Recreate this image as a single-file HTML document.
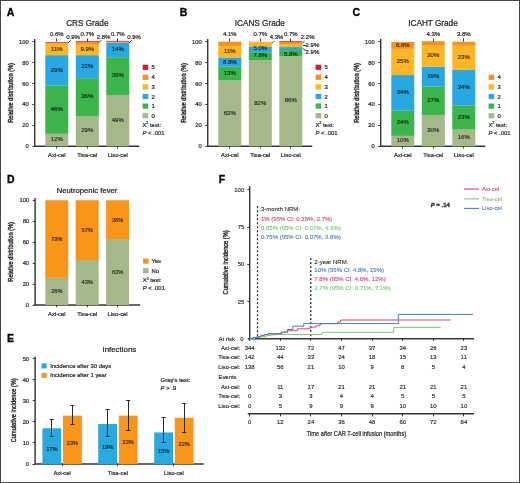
<!DOCTYPE html><html><head><meta charset="utf-8"><style>html,body{margin:0;padding:0;background:#fff;}svg{display:block;will-change:transform;filter:blur(0.25px);}</style></head><body>
<svg width="520" height="483" viewBox="0 0 520 483" font-family='"Liberation Sans", sans-serif'>
<rect x="0" y="0" width="520" height="483" fill="#fff"/>
<text x="6.80" y="15.60" font-size="10.5" text-anchor="start" fill="#000" stroke="#000" stroke-width="0.3" font-weight="bold">A</text>
<text x="179.80" y="15.80" font-size="10.5" text-anchor="start" fill="#000" stroke="#000" stroke-width="0.3" font-weight="bold">B</text>
<text x="352.50" y="15.80" font-size="10.5" text-anchor="start" fill="#000" stroke="#000" stroke-width="0.3" font-weight="bold">C</text>
<text x="6.90" y="182.70" font-size="10.5" text-anchor="start" fill="#000" stroke="#000" stroke-width="0.3" font-weight="bold">D</text>
<text x="6.90" y="341.90" font-size="10.5" text-anchor="start" fill="#000" stroke="#000" stroke-width="0.3" font-weight="bold">E</text>
<text x="218.70" y="183.20" font-size="10.5" text-anchor="start" fill="#000" stroke="#000" stroke-width="0.3" font-weight="bold">F</text>
<line x1="34.70" y1="39.00" x2="34.70" y2="146.80" stroke="#363636" stroke-width="1.45"/>
<line x1="34.20" y1="146.30" x2="139.30" y2="146.30" stroke="#363636" stroke-width="1.45"/>
<line x1="32.30" y1="146.50" x2="34.70" y2="146.50" stroke="#363636" stroke-width="1.0"/>
<text x="28.70" y="148.38" font-size="5.8" text-anchor="end" fill="#2b2b2b" stroke="#2b2b2b" stroke-width="0.22">0</text>
<line x1="32.30" y1="125.50" x2="34.70" y2="125.50" stroke="#363636" stroke-width="1.0"/>
<text x="28.70" y="127.42" font-size="5.8" text-anchor="end" fill="#2b2b2b" stroke="#2b2b2b" stroke-width="0.22">20</text>
<line x1="32.30" y1="104.50" x2="34.70" y2="104.50" stroke="#363636" stroke-width="1.0"/>
<text x="28.70" y="106.46" font-size="5.8" text-anchor="end" fill="#2b2b2b" stroke="#2b2b2b" stroke-width="0.22">40</text>
<line x1="32.30" y1="83.50" x2="34.70" y2="83.50" stroke="#363636" stroke-width="1.0"/>
<text x="28.70" y="85.50" font-size="5.8" text-anchor="end" fill="#2b2b2b" stroke="#2b2b2b" stroke-width="0.22">60</text>
<line x1="32.30" y1="62.50" x2="34.70" y2="62.50" stroke="#363636" stroke-width="1.0"/>
<text x="28.70" y="64.54" font-size="5.8" text-anchor="end" fill="#2b2b2b" stroke="#2b2b2b" stroke-width="0.22">80</text>
<line x1="32.30" y1="41.50" x2="34.70" y2="41.50" stroke="#363636" stroke-width="1.0"/>
<text x="28.70" y="43.58" font-size="5.8" text-anchor="end" fill="#2b2b2b" stroke="#2b2b2b" stroke-width="0.22">100</text>
<text x="87.30" y="25.90" font-size="8.2" text-anchor="middle" fill="#222" stroke="#222" stroke-width="0.22">CRS Grade</text>
<text x="0" y="0" font-size="7.0" text-anchor="middle" fill="#2b2b2b" stroke="#2b2b2b" stroke-width="0.4" textLength="59.8" lengthAdjust="spacingAndGlyphs" transform="translate(12.70,92.90) rotate(-90)">Relative distribution (%)</text>
<rect x="45.30" y="133.72" width="23.00" height="12.63" fill="#a5b88a"/>
<rect x="45.30" y="85.52" width="23.00" height="48.26" fill="#3bb44b"/>
<rect x="45.30" y="55.12" width="23.00" height="30.44" fill="#28a8e0"/>
<rect x="45.30" y="43.60" width="23.00" height="11.58" fill="#fcb626"/>
<rect x="45.30" y="42.65" width="23.00" height="0.99" fill="#f6921e"/>
<rect x="45.30" y="42.02" width="23.00" height="0.68" fill="#d4202a"/>
<line x1="56.50" y1="146.30" x2="56.50" y2="148.50" stroke="#363636" stroke-width="1.0"/>
<text x="56.80" y="157.38" font-size="5.8" text-anchor="middle" fill="#2b2b2b" stroke="#2b2b2b" stroke-width="0.22">Axi-cel</text>
<text x="56.80" y="141.26" font-size="6.0" text-anchor="middle" fill="rgba(0,0,0,0.66)" stroke="rgba(0,0,0,0.66)" stroke-width="0.22">12%</text>
<text x="56.80" y="110.87" font-size="6.0" text-anchor="middle" fill="rgba(0,0,0,0.66)" stroke="rgba(0,0,0,0.66)" stroke-width="0.22">46%</text>
<text x="56.80" y="71.57" font-size="6.0" text-anchor="middle" fill="rgba(0,0,0,0.66)" stroke="rgba(0,0,0,0.66)" stroke-width="0.22">29%</text>
<text x="56.80" y="50.61" font-size="6.0" text-anchor="middle" fill="rgba(0,0,0,0.66)" stroke="rgba(0,0,0,0.66)" stroke-width="0.22">11%</text>
<rect x="75.80" y="115.91" width="23.00" height="30.44" fill="#a5b88a"/>
<rect x="75.80" y="78.18" width="23.00" height="37.78" fill="#3bb44b"/>
<rect x="75.80" y="55.12" width="23.00" height="23.11" fill="#28a8e0"/>
<rect x="75.80" y="44.75" width="23.00" height="10.43" fill="#fcb626"/>
<rect x="75.80" y="41.81" width="23.00" height="2.98" fill="#f6921e"/>
<rect x="75.80" y="41.08" width="23.00" height="0.78" fill="#d4202a"/>
<line x1="87.50" y1="146.30" x2="87.50" y2="148.50" stroke="#363636" stroke-width="1.0"/>
<text x="87.30" y="157.38" font-size="5.8" text-anchor="middle" fill="#2b2b2b" stroke="#2b2b2b" stroke-width="0.22">Tisa-cel</text>
<text x="87.30" y="132.35" font-size="6.0" text-anchor="middle" fill="rgba(0,0,0,0.66)" stroke="rgba(0,0,0,0.66)" stroke-width="0.22">29%</text>
<text x="87.30" y="98.29" font-size="6.0" text-anchor="middle" fill="rgba(0,0,0,0.66)" stroke="rgba(0,0,0,0.66)" stroke-width="0.22">36%</text>
<text x="87.30" y="67.90" font-size="6.0" text-anchor="middle" fill="rgba(0,0,0,0.66)" stroke="rgba(0,0,0,0.66)" stroke-width="0.22">22%</text>
<text x="87.30" y="51.18" font-size="6.0" text-anchor="middle" fill="rgba(0,0,0,0.66)" stroke="rgba(0,0,0,0.66)" stroke-width="0.22">9.9%</text>
<rect x="106.30" y="94.95" width="23.00" height="51.40" fill="#a5b88a"/>
<rect x="106.30" y="57.22" width="23.00" height="37.78" fill="#3bb44b"/>
<rect x="106.30" y="42.55" width="23.00" height="14.72" fill="#28a8e0"/>
<rect x="106.30" y="41.60" width="23.00" height="0.99" fill="#f6921e"/>
<rect x="106.30" y="40.87" width="23.00" height="0.78" fill="#d4202a"/>
<line x1="117.50" y1="146.30" x2="117.50" y2="148.50" stroke="#363636" stroke-width="1.0"/>
<text x="117.80" y="157.38" font-size="5.8" text-anchor="middle" fill="#2b2b2b" stroke="#2b2b2b" stroke-width="0.22">Liso-cel</text>
<text x="117.80" y="121.87" font-size="6.0" text-anchor="middle" fill="rgba(0,0,0,0.66)" stroke="rgba(0,0,0,0.66)" stroke-width="0.22">49%</text>
<text x="117.80" y="77.33" font-size="6.0" text-anchor="middle" fill="rgba(0,0,0,0.66)" stroke="rgba(0,0,0,0.66)" stroke-width="0.22">36%</text>
<text x="117.80" y="51.13" font-size="6.0" text-anchor="middle" fill="rgba(0,0,0,0.66)" stroke="rgba(0,0,0,0.66)" stroke-width="0.22">14%</text>
<rect x="142.60" y="64.70" width="5.60" height="5.20" fill="#d4202a"/>
<text x="151.60" y="69.41" font-size="5.9" text-anchor="start" fill="#2b2b2b" stroke="#2b2b2b" stroke-width="0.22">5</text>
<rect x="142.60" y="74.70" width="5.60" height="5.20" fill="#f6921e"/>
<text x="151.60" y="79.41" font-size="5.9" text-anchor="start" fill="#2b2b2b" stroke="#2b2b2b" stroke-width="0.22">4</text>
<rect x="142.60" y="84.30" width="5.60" height="5.20" fill="#fcb626"/>
<text x="151.60" y="89.01" font-size="5.9" text-anchor="start" fill="#2b2b2b" stroke="#2b2b2b" stroke-width="0.22">3</text>
<rect x="142.60" y="93.90" width="5.60" height="5.20" fill="#28a8e0"/>
<text x="151.60" y="98.61" font-size="5.9" text-anchor="start" fill="#2b2b2b" stroke="#2b2b2b" stroke-width="0.22">2</text>
<rect x="142.60" y="103.50" width="5.60" height="5.20" fill="#3bb44b"/>
<text x="151.60" y="108.21" font-size="5.9" text-anchor="start" fill="#2b2b2b" stroke="#2b2b2b" stroke-width="0.22">1</text>
<rect x="142.60" y="113.10" width="5.60" height="5.20" fill="#a5b88a"/>
<text x="151.60" y="117.81" font-size="5.9" text-anchor="start" fill="#2b2b2b" stroke="#2b2b2b" stroke-width="0.22">0</text>
<text x="142.40" y="126.71" font-size="5.9" text-anchor="start" fill="#2b2b2b" stroke="#2b2b2b" stroke-width="0.22">X<tspan font-size="3.6" dy="-2.6">2</tspan><tspan dy="2.6"> test:</tspan></text>
<text x="142.40" y="134.51" font-size="5.9" text-anchor="start" fill="#2b2b2b" stroke="#2b2b2b" stroke-width="0.22"><tspan font-style="italic">P</tspan> &lt; .001</text>
<text x="56.80" y="36.35" font-size="6.0" text-anchor="middle" fill="#2b2b2b" stroke="#2b2b2b" stroke-width="0.22">0.6%</text>
<line x1="56.50" y1="38.50" x2="56.50" y2="41.50" stroke="#363636" stroke-width="1.0"/>
<text x="73.00" y="39.15" font-size="6.0" text-anchor="middle" fill="#2b2b2b" stroke="#2b2b2b" stroke-width="0.22">0.9%</text>
<line x1="68.00" y1="43.00" x2="70.80" y2="40.20" stroke="#363636" stroke-width="1.0"/>
<text x="87.30" y="36.35" font-size="6.0" text-anchor="middle" fill="#2b2b2b" stroke="#2b2b2b" stroke-width="0.22">0.7%</text>
<line x1="87.50" y1="38.50" x2="87.50" y2="41.50" stroke="#363636" stroke-width="1.0"/>
<text x="103.50" y="39.15" font-size="6.0" text-anchor="middle" fill="#2b2b2b" stroke="#2b2b2b" stroke-width="0.22">2.8%</text>
<line x1="98.50" y1="43.00" x2="101.30" y2="40.20" stroke="#363636" stroke-width="1.0"/>
<text x="117.80" y="36.35" font-size="6.0" text-anchor="middle" fill="#2b2b2b" stroke="#2b2b2b" stroke-width="0.22">0.7%</text>
<line x1="117.50" y1="38.50" x2="117.50" y2="41.50" stroke="#363636" stroke-width="1.0"/>
<text x="134.00" y="39.15" font-size="6.0" text-anchor="middle" fill="#2b2b2b" stroke="#2b2b2b" stroke-width="0.22">0.9%</text>
<line x1="129.00" y1="43.00" x2="131.80" y2="40.20" stroke="#363636" stroke-width="1.0"/>
<line x1="207.70" y1="39.00" x2="207.70" y2="146.80" stroke="#363636" stroke-width="1.45"/>
<line x1="207.20" y1="146.30" x2="312.30" y2="146.30" stroke="#363636" stroke-width="1.45"/>
<line x1="205.30" y1="146.50" x2="207.70" y2="146.50" stroke="#363636" stroke-width="1.0"/>
<text x="201.70" y="148.38" font-size="5.8" text-anchor="end" fill="#2b2b2b" stroke="#2b2b2b" stroke-width="0.22">0</text>
<line x1="205.30" y1="125.50" x2="207.70" y2="125.50" stroke="#363636" stroke-width="1.0"/>
<text x="201.70" y="127.42" font-size="5.8" text-anchor="end" fill="#2b2b2b" stroke="#2b2b2b" stroke-width="0.22">20</text>
<line x1="205.30" y1="104.50" x2="207.70" y2="104.50" stroke="#363636" stroke-width="1.0"/>
<text x="201.70" y="106.46" font-size="5.8" text-anchor="end" fill="#2b2b2b" stroke="#2b2b2b" stroke-width="0.22">40</text>
<line x1="205.30" y1="83.50" x2="207.70" y2="83.50" stroke="#363636" stroke-width="1.0"/>
<text x="201.70" y="85.50" font-size="5.8" text-anchor="end" fill="#2b2b2b" stroke="#2b2b2b" stroke-width="0.22">60</text>
<line x1="205.30" y1="62.50" x2="207.70" y2="62.50" stroke="#363636" stroke-width="1.0"/>
<text x="201.70" y="64.54" font-size="5.8" text-anchor="end" fill="#2b2b2b" stroke="#2b2b2b" stroke-width="0.22">80</text>
<line x1="205.30" y1="41.50" x2="207.70" y2="41.50" stroke="#363636" stroke-width="1.0"/>
<text x="201.70" y="43.58" font-size="5.8" text-anchor="end" fill="#2b2b2b" stroke="#2b2b2b" stroke-width="0.22">100</text>
<text x="259.85" y="25.90" font-size="8.2" text-anchor="middle" fill="#222" stroke="#222" stroke-width="0.22">ICANS Grade</text>
<text x="0" y="0" font-size="7.0" text-anchor="middle" fill="#2b2b2b" stroke="#2b2b2b" stroke-width="0.4" textLength="59.8" lengthAdjust="spacingAndGlyphs" transform="translate(185.70,92.90) rotate(-90)">Relative distribution (%)</text>
<rect x="218.30" y="80.28" width="23.00" height="66.07" fill="#a5b88a"/>
<rect x="218.30" y="66.65" width="23.00" height="13.67" fill="#3bb44b"/>
<rect x="218.30" y="57.43" width="23.00" height="9.27" fill="#28a8e0"/>
<rect x="218.30" y="45.90" width="23.00" height="11.58" fill="#fcb626"/>
<rect x="218.30" y="41.60" width="23.00" height="4.35" fill="#f6921e"/>
<line x1="229.50" y1="146.30" x2="229.50" y2="148.50" stroke="#363636" stroke-width="1.0"/>
<text x="229.80" y="157.38" font-size="5.8" text-anchor="middle" fill="#2b2b2b" stroke="#2b2b2b" stroke-width="0.22">Axi-cel</text>
<text x="229.80" y="114.54" font-size="6.0" text-anchor="middle" fill="rgba(0,0,0,0.66)" stroke="rgba(0,0,0,0.66)" stroke-width="0.22">63%</text>
<text x="229.80" y="74.71" font-size="6.0" text-anchor="middle" fill="rgba(0,0,0,0.66)" stroke="rgba(0,0,0,0.66)" stroke-width="0.22">13%</text>
<text x="229.80" y="64.45" font-size="6.0" text-anchor="middle" fill="rgba(0,0,0,0.66)" stroke="rgba(0,0,0,0.66)" stroke-width="0.22">8.8%</text>
<text x="229.80" y="52.91" font-size="6.0" text-anchor="middle" fill="rgba(0,0,0,0.66)" stroke="rgba(0,0,0,0.66)" stroke-width="0.22">11%</text>
<rect x="248.80" y="60.36" width="23.00" height="85.99" fill="#a5b88a"/>
<rect x="248.80" y="52.19" width="23.00" height="8.22" fill="#3bb44b"/>
<rect x="248.80" y="46.95" width="23.00" height="5.29" fill="#28a8e0"/>
<rect x="248.80" y="42.44" width="23.00" height="4.56" fill="#fcb626"/>
<rect x="248.80" y="41.71" width="23.00" height="0.78" fill="#f6921e"/>
<line x1="260.50" y1="146.30" x2="260.50" y2="148.50" stroke="#363636" stroke-width="1.0"/>
<text x="260.30" y="157.38" font-size="5.8" text-anchor="middle" fill="#2b2b2b" stroke="#2b2b2b" stroke-width="0.22">Tisa-cel</text>
<text x="260.30" y="104.58" font-size="6.0" text-anchor="middle" fill="rgba(0,0,0,0.66)" stroke="rgba(0,0,0,0.66)" stroke-width="0.22">82%</text>
<text x="260.30" y="56.55" font-size="6.0" text-anchor="middle" fill="rgba(0,0,0,0.66)" stroke="rgba(0,0,0,0.66)" stroke-width="0.22">7.8%</text>
<text x="260.30" y="50.35" font-size="6.0" text-anchor="middle" fill="rgba(0,0,0,0.66)" stroke="rgba(0,0,0,0.66)" stroke-width="0.22">5.0%</text>
<rect x="279.30" y="56.17" width="23.00" height="90.18" fill="#a5b88a"/>
<rect x="279.30" y="50.09" width="23.00" height="6.13" fill="#3bb44b"/>
<rect x="279.30" y="47.05" width="23.00" height="3.09" fill="#28a8e0"/>
<rect x="279.30" y="44.02" width="23.00" height="3.09" fill="#fcb626"/>
<rect x="279.30" y="41.71" width="23.00" height="2.36" fill="#f6921e"/>
<rect x="279.30" y="40.98" width="23.00" height="0.78" fill="#d4202a"/>
<line x1="290.50" y1="146.30" x2="290.50" y2="148.50" stroke="#363636" stroke-width="1.0"/>
<text x="290.80" y="157.38" font-size="5.8" text-anchor="middle" fill="#2b2b2b" stroke="#2b2b2b" stroke-width="0.22">Liso-cel</text>
<text x="290.80" y="102.48" font-size="6.0" text-anchor="middle" fill="rgba(0,0,0,0.66)" stroke="rgba(0,0,0,0.66)" stroke-width="0.22">86%</text>
<text x="290.80" y="55.55" font-size="6.0" text-anchor="middle" fill="rgba(0,0,0,0.66)" stroke="rgba(0,0,0,0.66)" stroke-width="0.22">5.8%</text>
<rect x="315.60" y="64.70" width="5.60" height="5.20" fill="#d4202a"/>
<text x="324.60" y="69.41" font-size="5.9" text-anchor="start" fill="#2b2b2b" stroke="#2b2b2b" stroke-width="0.22">5</text>
<rect x="315.60" y="74.70" width="5.60" height="5.20" fill="#f6921e"/>
<text x="324.60" y="79.41" font-size="5.9" text-anchor="start" fill="#2b2b2b" stroke="#2b2b2b" stroke-width="0.22">4</text>
<rect x="315.60" y="84.30" width="5.60" height="5.20" fill="#fcb626"/>
<text x="324.60" y="89.01" font-size="5.9" text-anchor="start" fill="#2b2b2b" stroke="#2b2b2b" stroke-width="0.22">3</text>
<rect x="315.60" y="93.90" width="5.60" height="5.20" fill="#28a8e0"/>
<text x="324.60" y="98.61" font-size="5.9" text-anchor="start" fill="#2b2b2b" stroke="#2b2b2b" stroke-width="0.22">2</text>
<rect x="315.60" y="103.50" width="5.60" height="5.20" fill="#3bb44b"/>
<text x="324.60" y="108.21" font-size="5.9" text-anchor="start" fill="#2b2b2b" stroke="#2b2b2b" stroke-width="0.22">1</text>
<rect x="315.60" y="113.10" width="5.60" height="5.20" fill="#a5b88a"/>
<text x="324.60" y="117.81" font-size="5.9" text-anchor="start" fill="#2b2b2b" stroke="#2b2b2b" stroke-width="0.22">0</text>
<text x="315.40" y="126.71" font-size="5.9" text-anchor="start" fill="#2b2b2b" stroke="#2b2b2b" stroke-width="0.22">X<tspan font-size="3.6" dy="-2.6">2</tspan><tspan dy="2.6"> test:</tspan></text>
<text x="315.40" y="134.51" font-size="5.9" text-anchor="start" fill="#2b2b2b" stroke="#2b2b2b" stroke-width="0.22"><tspan font-style="italic">P</tspan> &lt; .001</text>
<text x="229.80" y="36.35" font-size="6.0" text-anchor="middle" fill="#2b2b2b" stroke="#2b2b2b" stroke-width="0.22">4.1%</text>
<line x1="229.50" y1="38.50" x2="229.50" y2="41.50" stroke="#363636" stroke-width="1.0"/>
<text x="260.30" y="36.35" font-size="6.0" text-anchor="middle" fill="#2b2b2b" stroke="#2b2b2b" stroke-width="0.22">0.7%</text>
<line x1="260.50" y1="38.50" x2="260.50" y2="41.50" stroke="#363636" stroke-width="1.0"/>
<text x="276.50" y="39.15" font-size="6.0" text-anchor="middle" fill="#2b2b2b" stroke="#2b2b2b" stroke-width="0.22">4.3%</text>
<line x1="272.00" y1="43.30" x2="274.00" y2="41.30" stroke="#363636" stroke-width="1.0"/>
<text x="290.80" y="36.35" font-size="6.0" text-anchor="middle" fill="#2b2b2b" stroke="#2b2b2b" stroke-width="0.22">0.7%</text>
<line x1="290.50" y1="38.50" x2="290.50" y2="41.50" stroke="#363636" stroke-width="1.0"/>
<text x="307.70" y="39.15" font-size="6.0" text-anchor="middle" fill="#2b2b2b" stroke="#2b2b2b" stroke-width="0.22">2.2%</text>
<line x1="302.50" y1="43.00" x2="304.60" y2="41.00" stroke="#363636" stroke-width="1.0"/>
<text x="312.40" y="47.15" font-size="6.0" text-anchor="middle" fill="#2b2b2b" stroke="#2b2b2b" stroke-width="0.22">2.9%</text>
<line x1="302.80" y1="45.50" x2="306.30" y2="45.50" stroke="#363636" stroke-width="1.0"/>
<text x="312.40" y="53.65" font-size="6.0" text-anchor="middle" fill="#2b2b2b" stroke="#2b2b2b" stroke-width="0.22">2.9%</text>
<line x1="302.80" y1="48.50" x2="306.30" y2="51.00" stroke="#363636" stroke-width="1.0"/>
<line x1="380.70" y1="39.00" x2="380.70" y2="146.80" stroke="#363636" stroke-width="1.45"/>
<line x1="380.20" y1="146.30" x2="485.30" y2="146.30" stroke="#363636" stroke-width="1.45"/>
<line x1="378.30" y1="146.50" x2="380.70" y2="146.50" stroke="#363636" stroke-width="1.0"/>
<text x="374.70" y="148.38" font-size="5.8" text-anchor="end" fill="#2b2b2b" stroke="#2b2b2b" stroke-width="0.22">0</text>
<line x1="378.30" y1="125.50" x2="380.70" y2="125.50" stroke="#363636" stroke-width="1.0"/>
<text x="374.70" y="127.42" font-size="5.8" text-anchor="end" fill="#2b2b2b" stroke="#2b2b2b" stroke-width="0.22">20</text>
<line x1="378.30" y1="104.50" x2="380.70" y2="104.50" stroke="#363636" stroke-width="1.0"/>
<text x="374.70" y="106.46" font-size="5.8" text-anchor="end" fill="#2b2b2b" stroke="#2b2b2b" stroke-width="0.22">40</text>
<line x1="378.30" y1="83.50" x2="380.70" y2="83.50" stroke="#363636" stroke-width="1.0"/>
<text x="374.70" y="85.50" font-size="5.8" text-anchor="end" fill="#2b2b2b" stroke="#2b2b2b" stroke-width="0.22">60</text>
<line x1="378.30" y1="62.50" x2="380.70" y2="62.50" stroke="#363636" stroke-width="1.0"/>
<text x="374.70" y="64.54" font-size="5.8" text-anchor="end" fill="#2b2b2b" stroke="#2b2b2b" stroke-width="0.22">80</text>
<line x1="378.30" y1="41.50" x2="380.70" y2="41.50" stroke="#363636" stroke-width="1.0"/>
<text x="374.70" y="43.58" font-size="5.8" text-anchor="end" fill="#2b2b2b" stroke="#2b2b2b" stroke-width="0.22">100</text>
<text x="433.00" y="25.90" font-size="8.2" text-anchor="middle" fill="#222" stroke="#222" stroke-width="0.22">ICAHT Grade</text>
<text x="0" y="0" font-size="7.0" text-anchor="middle" fill="#2b2b2b" stroke="#2b2b2b" stroke-width="0.4" textLength="59.8" lengthAdjust="spacingAndGlyphs" transform="translate(358.70,92.90) rotate(-90)">Relative distribution (%)</text>
<rect x="391.30" y="135.82" width="23.00" height="10.53" fill="#a5b88a"/>
<rect x="391.30" y="110.67" width="23.00" height="25.20" fill="#3bb44b"/>
<rect x="391.30" y="75.04" width="23.00" height="35.68" fill="#28a8e0"/>
<rect x="391.30" y="48.84" width="23.00" height="26.25" fill="#fcb626"/>
<rect x="391.30" y="41.92" width="23.00" height="6.97" fill="#f6921e"/>
<line x1="402.50" y1="146.30" x2="402.50" y2="148.50" stroke="#363636" stroke-width="1.0"/>
<text x="402.80" y="157.38" font-size="5.8" text-anchor="middle" fill="#2b2b2b" stroke="#2b2b2b" stroke-width="0.22">Axi-cel</text>
<text x="402.80" y="142.31" font-size="6.0" text-anchor="middle" fill="rgba(0,0,0,0.66)" stroke="rgba(0,0,0,0.66)" stroke-width="0.22">10%</text>
<text x="402.80" y="124.49" font-size="6.0" text-anchor="middle" fill="rgba(0,0,0,0.66)" stroke="rgba(0,0,0,0.66)" stroke-width="0.22">24%</text>
<text x="402.80" y="94.10" font-size="6.0" text-anchor="middle" fill="rgba(0,0,0,0.66)" stroke="rgba(0,0,0,0.66)" stroke-width="0.22">34%</text>
<text x="402.80" y="63.18" font-size="6.0" text-anchor="middle" fill="rgba(0,0,0,0.66)" stroke="rgba(0,0,0,0.66)" stroke-width="0.22">25%</text>
<text x="402.80" y="46.63" font-size="6.0" text-anchor="middle" fill="rgba(0,0,0,0.66)" stroke="rgba(0,0,0,0.66)" stroke-width="0.22">6.6%</text>
<rect x="421.80" y="114.86" width="23.00" height="31.49" fill="#a5b88a"/>
<rect x="421.80" y="86.56" width="23.00" height="28.35" fill="#3bb44b"/>
<rect x="421.80" y="66.65" width="23.00" height="19.96" fill="#28a8e0"/>
<rect x="421.80" y="45.69" width="23.00" height="21.01" fill="#fcb626"/>
<rect x="421.80" y="41.19" width="23.00" height="4.56" fill="#f6921e"/>
<line x1="433.50" y1="146.30" x2="433.50" y2="148.50" stroke="#363636" stroke-width="1.0"/>
<text x="433.30" y="157.38" font-size="5.8" text-anchor="middle" fill="#2b2b2b" stroke="#2b2b2b" stroke-width="0.22">Tisa-cel</text>
<text x="433.30" y="131.83" font-size="6.0" text-anchor="middle" fill="rgba(0,0,0,0.66)" stroke="rgba(0,0,0,0.66)" stroke-width="0.22">30%</text>
<text x="433.30" y="101.96" font-size="6.0" text-anchor="middle" fill="rgba(0,0,0,0.66)" stroke="rgba(0,0,0,0.66)" stroke-width="0.22">27%</text>
<text x="433.30" y="77.86" font-size="6.0" text-anchor="middle" fill="rgba(0,0,0,0.66)" stroke="rgba(0,0,0,0.66)" stroke-width="0.22">19%</text>
<text x="433.30" y="57.42" font-size="6.0" text-anchor="middle" fill="rgba(0,0,0,0.66)" stroke="rgba(0,0,0,0.66)" stroke-width="0.22">20%</text>
<rect x="452.30" y="129.53" width="23.00" height="16.82" fill="#a5b88a"/>
<rect x="452.30" y="105.43" width="23.00" height="24.15" fill="#3bb44b"/>
<rect x="452.30" y="69.80" width="23.00" height="35.68" fill="#28a8e0"/>
<rect x="452.30" y="45.69" width="23.00" height="24.15" fill="#fcb626"/>
<rect x="452.30" y="41.71" width="23.00" height="4.03" fill="#f6921e"/>
<line x1="463.50" y1="146.30" x2="463.50" y2="148.50" stroke="#363636" stroke-width="1.0"/>
<text x="463.80" y="157.38" font-size="5.8" text-anchor="middle" fill="#2b2b2b" stroke="#2b2b2b" stroke-width="0.22">Liso-cel</text>
<text x="463.80" y="139.16" font-size="6.0" text-anchor="middle" fill="rgba(0,0,0,0.66)" stroke="rgba(0,0,0,0.66)" stroke-width="0.22">16%</text>
<text x="463.80" y="118.73" font-size="6.0" text-anchor="middle" fill="rgba(0,0,0,0.66)" stroke="rgba(0,0,0,0.66)" stroke-width="0.22">23%</text>
<text x="463.80" y="88.86" font-size="6.0" text-anchor="middle" fill="rgba(0,0,0,0.66)" stroke="rgba(0,0,0,0.66)" stroke-width="0.22">34%</text>
<text x="463.80" y="58.99" font-size="6.0" text-anchor="middle" fill="rgba(0,0,0,0.66)" stroke="rgba(0,0,0,0.66)" stroke-width="0.22">23%</text>
<rect x="488.60" y="74.70" width="5.60" height="5.20" fill="#f6921e"/>
<text x="497.60" y="79.41" font-size="5.9" text-anchor="start" fill="#2b2b2b" stroke="#2b2b2b" stroke-width="0.22">4</text>
<rect x="488.60" y="84.30" width="5.60" height="5.20" fill="#fcb626"/>
<text x="497.60" y="89.01" font-size="5.9" text-anchor="start" fill="#2b2b2b" stroke="#2b2b2b" stroke-width="0.22">3</text>
<rect x="488.60" y="93.90" width="5.60" height="5.20" fill="#28a8e0"/>
<text x="497.60" y="98.61" font-size="5.9" text-anchor="start" fill="#2b2b2b" stroke="#2b2b2b" stroke-width="0.22">2</text>
<rect x="488.60" y="103.50" width="5.60" height="5.20" fill="#3bb44b"/>
<text x="497.60" y="108.21" font-size="5.9" text-anchor="start" fill="#2b2b2b" stroke="#2b2b2b" stroke-width="0.22">1</text>
<rect x="488.60" y="113.10" width="5.60" height="5.20" fill="#a5b88a"/>
<text x="497.60" y="117.81" font-size="5.9" text-anchor="start" fill="#2b2b2b" stroke="#2b2b2b" stroke-width="0.22">0</text>
<text x="488.40" y="126.71" font-size="5.9" text-anchor="start" fill="#2b2b2b" stroke="#2b2b2b" stroke-width="0.22">X<tspan font-size="3.6" dy="-2.6">2</tspan><tspan dy="2.6"> test:</tspan></text>
<text x="488.40" y="134.51" font-size="5.9" text-anchor="start" fill="#2b2b2b" stroke="#2b2b2b" stroke-width="0.22"><tspan font-style="italic">P</tspan> &lt; .001</text>
<text x="433.30" y="36.35" font-size="6.0" text-anchor="middle" fill="#2b2b2b" stroke="#2b2b2b" stroke-width="0.22">4.3%</text>
<line x1="433.50" y1="38.50" x2="433.50" y2="41.50" stroke="#363636" stroke-width="1.0"/>
<text x="463.80" y="36.35" font-size="6.0" text-anchor="middle" fill="#2b2b2b" stroke="#2b2b2b" stroke-width="0.22">3.8%</text>
<line x1="463.50" y1="38.50" x2="463.50" y2="41.50" stroke="#363636" stroke-width="1.0"/>
<line x1="35.10" y1="198.00" x2="35.10" y2="305.50" stroke="#363636" stroke-width="1.45"/>
<line x1="34.60" y1="305.00" x2="140.20" y2="305.00" stroke="#363636" stroke-width="1.45"/>
<line x1="32.70" y1="305.50" x2="35.10" y2="305.50" stroke="#363636" stroke-width="1.0"/>
<text x="29.10" y="307.08" font-size="5.8" text-anchor="end" fill="#2b2b2b" stroke="#2b2b2b" stroke-width="0.22">0</text>
<line x1="32.70" y1="284.50" x2="35.10" y2="284.50" stroke="#363636" stroke-width="1.0"/>
<text x="29.10" y="286.14" font-size="5.8" text-anchor="end" fill="#2b2b2b" stroke="#2b2b2b" stroke-width="0.22">20</text>
<line x1="32.70" y1="263.50" x2="35.10" y2="263.50" stroke="#363636" stroke-width="1.0"/>
<text x="29.10" y="265.20" font-size="5.8" text-anchor="end" fill="#2b2b2b" stroke="#2b2b2b" stroke-width="0.22">40</text>
<line x1="32.70" y1="242.50" x2="35.10" y2="242.50" stroke="#363636" stroke-width="1.0"/>
<text x="29.10" y="244.26" font-size="5.8" text-anchor="end" fill="#2b2b2b" stroke="#2b2b2b" stroke-width="0.22">60</text>
<line x1="32.70" y1="221.50" x2="35.10" y2="221.50" stroke="#363636" stroke-width="1.0"/>
<text x="29.10" y="223.32" font-size="5.8" text-anchor="end" fill="#2b2b2b" stroke="#2b2b2b" stroke-width="0.22">80</text>
<line x1="32.70" y1="200.50" x2="35.10" y2="200.50" stroke="#363636" stroke-width="1.0"/>
<text x="29.10" y="202.38" font-size="5.8" text-anchor="end" fill="#2b2b2b" stroke="#2b2b2b" stroke-width="0.22">100</text>
<text x="87.10" y="193.10" font-size="7.7" text-anchor="middle" fill="#222" stroke="#222" stroke-width="0.22">Neutropenic fever</text>
<text x="0" y="0" font-size="7.0" text-anchor="middle" fill="#2b2b2b" stroke="#2b2b2b" stroke-width="0.4" textLength="59.7" lengthAdjust="spacingAndGlyphs" transform="translate(12.70,251.85) rotate(-90)">Relative distribution (%)</text>
<rect x="45.30" y="277.78" width="23.00" height="27.22" fill="#a5b88a"/>
<rect x="45.30" y="200.30" width="23.00" height="77.53" fill="#f8951a"/>
<line x1="56.50" y1="305.00" x2="56.50" y2="307.20" stroke="#363636" stroke-width="1.0"/>
<text x="56.80" y="316.08" font-size="5.8" text-anchor="middle" fill="#2b2b2b" stroke="#2b2b2b" stroke-width="0.22">Axi-cel</text>
<text x="56.80" y="293.39" font-size="5.6" text-anchor="middle" fill="rgba(0,0,0,0.66)" stroke="rgba(0,0,0,0.66)" stroke-width="0.22">26%</text>
<text x="56.80" y="241.04" font-size="5.6" text-anchor="middle" fill="rgba(0,0,0,0.66)" stroke="rgba(0,0,0,0.66)" stroke-width="0.22">73%</text>
<rect x="75.70" y="259.98" width="23.00" height="45.02" fill="#a5b88a"/>
<rect x="75.70" y="200.30" width="23.00" height="59.73" fill="#f8951a"/>
<line x1="87.50" y1="305.00" x2="87.50" y2="307.20" stroke="#363636" stroke-width="1.0"/>
<text x="87.20" y="316.08" font-size="5.8" text-anchor="middle" fill="#2b2b2b" stroke="#2b2b2b" stroke-width="0.22">Tisa-cel</text>
<text x="87.20" y="284.49" font-size="5.6" text-anchor="middle" fill="rgba(0,0,0,0.66)" stroke="rgba(0,0,0,0.66)" stroke-width="0.22">43%</text>
<text x="87.20" y="232.14" font-size="5.6" text-anchor="middle" fill="rgba(0,0,0,0.66)" stroke="rgba(0,0,0,0.66)" stroke-width="0.22">57%</text>
<rect x="106.10" y="239.04" width="23.00" height="65.96" fill="#a5b88a"/>
<rect x="106.10" y="200.30" width="23.00" height="38.79" fill="#f8951a"/>
<line x1="117.50" y1="305.00" x2="117.50" y2="307.20" stroke="#363636" stroke-width="1.0"/>
<text x="117.60" y="316.08" font-size="5.8" text-anchor="middle" fill="#2b2b2b" stroke="#2b2b2b" stroke-width="0.22">Liso-cel</text>
<text x="117.60" y="274.02" font-size="5.6" text-anchor="middle" fill="rgba(0,0,0,0.66)" stroke="rgba(0,0,0,0.66)" stroke-width="0.22">63%</text>
<text x="117.60" y="221.67" font-size="5.6" text-anchor="middle" fill="rgba(0,0,0,0.66)" stroke="rgba(0,0,0,0.66)" stroke-width="0.22">36%</text>
<rect x="143.00" y="258.50" width="5.60" height="5.20" fill="#f8951a"/>
<text x="151.40" y="263.21" font-size="5.9" text-anchor="start" fill="#2b2b2b" stroke="#2b2b2b" stroke-width="0.22">Yes</text>
<rect x="143.00" y="268.10" width="5.60" height="5.20" fill="#a5b88a"/>
<text x="151.40" y="272.81" font-size="5.9" text-anchor="start" fill="#2b2b2b" stroke="#2b2b2b" stroke-width="0.22">No</text>
<text x="142.80" y="282.31" font-size="5.9" text-anchor="start" fill="#2b2b2b" stroke="#2b2b2b" stroke-width="0.22">X<tspan font-size="3.6" dy="-2.6">2</tspan><tspan dy="2.6"> test:</tspan></text>
<text x="142.80" y="289.71" font-size="5.9" text-anchor="start" fill="#2b2b2b" stroke="#2b2b2b" stroke-width="0.22"><tspan font-style="italic">P</tspan> &lt; .001</text>
<line x1="35.10" y1="356.50" x2="35.10" y2="464.50" stroke="#363636" stroke-width="1.45"/>
<line x1="34.60" y1="464.00" x2="203.70" y2="464.00" stroke="#363636" stroke-width="1.45"/>
<line x1="32.70" y1="464.50" x2="35.10" y2="464.50" stroke="#363636" stroke-width="1.0"/>
<text x="29.10" y="466.08" font-size="5.8" text-anchor="end" fill="#2b2b2b" stroke="#2b2b2b" stroke-width="0.22">0</text>
<line x1="32.70" y1="442.50" x2="35.10" y2="442.50" stroke="#363636" stroke-width="1.0"/>
<text x="29.10" y="445.06" font-size="5.8" text-anchor="end" fill="#2b2b2b" stroke="#2b2b2b" stroke-width="0.22">10</text>
<line x1="32.70" y1="421.50" x2="35.10" y2="421.50" stroke="#363636" stroke-width="1.0"/>
<text x="29.10" y="424.04" font-size="5.8" text-anchor="end" fill="#2b2b2b" stroke="#2b2b2b" stroke-width="0.22">20</text>
<line x1="32.70" y1="400.50" x2="35.10" y2="400.50" stroke="#363636" stroke-width="1.0"/>
<text x="29.10" y="403.02" font-size="5.8" text-anchor="end" fill="#2b2b2b" stroke="#2b2b2b" stroke-width="0.22">30</text>
<line x1="32.70" y1="379.50" x2="35.10" y2="379.50" stroke="#363636" stroke-width="1.0"/>
<text x="29.10" y="382.00" font-size="5.8" text-anchor="end" fill="#2b2b2b" stroke="#2b2b2b" stroke-width="0.22">40</text>
<line x1="32.70" y1="358.50" x2="35.10" y2="358.50" stroke="#363636" stroke-width="1.0"/>
<text x="29.10" y="360.98" font-size="5.8" text-anchor="end" fill="#2b2b2b" stroke="#2b2b2b" stroke-width="0.22">50</text>
<text x="119.35" y="351.83" font-size="7.9" text-anchor="middle" fill="#222" stroke="#222" stroke-width="0.22">Infections</text>
<text x="0" y="0" font-size="7.4" text-anchor="middle" fill="#2b2b2b" stroke="#2b2b2b" stroke-width="0.4" textLength="64" lengthAdjust="spacingAndGlyphs" transform="translate(15.70,410.25) rotate(-90)">Cumulative incidence (%)</text>
<rect x="41.50" y="363.40" width="5.20" height="5.00" fill="#29a9df"/>
<text x="50.20" y="368.01" font-size="5.9" text-anchor="start" fill="#2b2b2b" stroke="#2b2b2b" stroke-width="0.22">Incidence after 30 days</text>
<rect x="41.50" y="372.90" width="5.20" height="5.00" fill="#f8951a"/>
<text x="50.20" y="377.41" font-size="5.9" text-anchor="start" fill="#2b2b2b" stroke="#2b2b2b" stroke-width="0.22">Incidence after 1 year</text>
<text x="160.60" y="382.21" font-size="5.9" text-anchor="start" fill="#2b2b2b" stroke="#2b2b2b" stroke-width="0.22">Gray’s test:</text>
<text x="160.60" y="390.01" font-size="5.9" text-anchor="start" fill="#2b2b2b" stroke="#2b2b2b" stroke-width="0.22"><tspan font-style="italic">P</tspan> &gt; .9</text>
<rect x="42.40" y="428.27" width="18.80" height="35.73" fill="#29a9df"/>
<rect x="63.00" y="415.65" width="18.80" height="48.35" fill="#f8951a"/>
<line x1="51.50" y1="419.86" x2="51.50" y2="436.67" stroke="#2a2a2a" stroke-width="1.0"/>
<line x1="49.80" y1="419.50" x2="53.80" y2="419.50" stroke="#2a2a2a" stroke-width="1.0"/>
<line x1="49.80" y1="436.50" x2="53.80" y2="436.50" stroke="#2a2a2a" stroke-width="1.0"/>
<line x1="72.50" y1="405.14" x2="72.50" y2="424.06" stroke="#2a2a2a" stroke-width="1.0"/>
<line x1="70.40" y1="405.50" x2="74.40" y2="405.50" stroke="#2a2a2a" stroke-width="1.0"/>
<line x1="70.40" y1="424.50" x2="74.40" y2="424.50" stroke="#2a2a2a" stroke-width="1.0"/>
<text x="51.80" y="451.30" font-size="5.6" text-anchor="middle" fill="rgba(0,0,0,0.66)" stroke="rgba(0,0,0,0.66)" stroke-width="0.22">17%</text>
<text x="72.40" y="444.90" font-size="5.6" text-anchor="middle" fill="rgba(0,0,0,0.66)" stroke="rgba(0,0,0,0.66)" stroke-width="0.22">23%</text>
<line x1="62.50" y1="464.00" x2="62.50" y2="466.20" stroke="#363636" stroke-width="1.0"/>
<text x="62.10" y="475.08" font-size="5.8" text-anchor="middle" fill="#2b2b2b" stroke="#2b2b2b" stroke-width="0.22">Axi-cel</text>
<rect x="98.20" y="424.06" width="18.80" height="39.94" fill="#29a9df"/>
<rect x="118.80" y="415.65" width="18.80" height="48.35" fill="#f8951a"/>
<line x1="107.50" y1="409.35" x2="107.50" y2="436.67" stroke="#2a2a2a" stroke-width="1.0"/>
<line x1="105.60" y1="409.50" x2="109.60" y2="409.50" stroke="#2a2a2a" stroke-width="1.0"/>
<line x1="105.60" y1="436.50" x2="109.60" y2="436.50" stroke="#2a2a2a" stroke-width="1.0"/>
<line x1="128.50" y1="400.94" x2="128.50" y2="430.37" stroke="#2a2a2a" stroke-width="1.0"/>
<line x1="126.20" y1="400.50" x2="130.20" y2="400.50" stroke="#2a2a2a" stroke-width="1.0"/>
<line x1="126.20" y1="430.50" x2="130.20" y2="430.50" stroke="#2a2a2a" stroke-width="1.0"/>
<text x="107.60" y="448.70" font-size="5.6" text-anchor="middle" fill="rgba(0,0,0,0.66)" stroke="rgba(0,0,0,0.66)" stroke-width="0.22">19%</text>
<text x="128.20" y="444.40" font-size="5.6" text-anchor="middle" fill="rgba(0,0,0,0.66)" stroke="rgba(0,0,0,0.66)" stroke-width="0.22">23%</text>
<line x1="117.50" y1="464.00" x2="117.50" y2="466.20" stroke="#363636" stroke-width="1.0"/>
<text x="117.90" y="475.08" font-size="5.8" text-anchor="middle" fill="#2b2b2b" stroke="#2b2b2b" stroke-width="0.22">Tisa-cel</text>
<rect x="154.20" y="432.47" width="18.80" height="31.53" fill="#29a9df"/>
<rect x="174.80" y="417.76" width="18.80" height="46.24" fill="#f8951a"/>
<line x1="163.50" y1="417.76" x2="163.50" y2="442.98" stroke="#2a2a2a" stroke-width="1.0"/>
<line x1="161.60" y1="417.50" x2="165.60" y2="417.50" stroke="#2a2a2a" stroke-width="1.0"/>
<line x1="161.60" y1="442.50" x2="165.60" y2="442.50" stroke="#2a2a2a" stroke-width="1.0"/>
<line x1="184.50" y1="403.04" x2="184.50" y2="432.47" stroke="#2a2a2a" stroke-width="1.0"/>
<line x1="182.20" y1="403.50" x2="186.20" y2="403.50" stroke="#2a2a2a" stroke-width="1.0"/>
<line x1="182.20" y1="432.50" x2="186.20" y2="432.50" stroke="#2a2a2a" stroke-width="1.0"/>
<text x="163.60" y="453.40" font-size="5.6" text-anchor="middle" fill="rgba(0,0,0,0.66)" stroke="rgba(0,0,0,0.66)" stroke-width="0.22">15%</text>
<text x="184.20" y="446.30" font-size="5.6" text-anchor="middle" fill="rgba(0,0,0,0.66)" stroke="rgba(0,0,0,0.66)" stroke-width="0.22">22%</text>
<line x1="173.50" y1="464.00" x2="173.50" y2="466.20" stroke="#363636" stroke-width="1.0"/>
<text x="173.90" y="475.08" font-size="5.8" text-anchor="middle" fill="#2b2b2b" stroke="#2b2b2b" stroke-width="0.22">Liso-cel</text>
<line x1="249.70" y1="186.20" x2="249.70" y2="339.20" stroke="#363636" stroke-width="1.45"/>
<line x1="247.70" y1="338.70" x2="474.00" y2="338.70" stroke="#363636" stroke-width="1.45"/>
<line x1="247.30" y1="301.50" x2="249.70" y2="301.50" stroke="#363636" stroke-width="1.0"/>
<text x="244.20" y="303.59" font-size="5.9" text-anchor="end" fill="#2b2b2b" stroke="#2b2b2b" stroke-width="0.16">25</text>
<line x1="247.30" y1="264.50" x2="249.70" y2="264.50" stroke="#363636" stroke-width="1.0"/>
<text x="244.20" y="266.36" font-size="5.9" text-anchor="end" fill="#2b2b2b" stroke="#2b2b2b" stroke-width="0.16">50</text>
<line x1="247.30" y1="227.50" x2="249.70" y2="227.50" stroke="#363636" stroke-width="1.0"/>
<text x="244.20" y="229.14" font-size="5.9" text-anchor="end" fill="#2b2b2b" stroke="#2b2b2b" stroke-width="0.16">75</text>
<line x1="247.30" y1="189.50" x2="249.70" y2="189.50" stroke="#363636" stroke-width="1.0"/>
<text x="244.20" y="191.91" font-size="5.9" text-anchor="end" fill="#2b2b2b" stroke="#2b2b2b" stroke-width="0.16">100</text>
<text x="241.80" y="341.01" font-size="5.9" text-anchor="middle" fill="#2b2b2b" stroke="#2b2b2b" stroke-width="0.16">0</text>
<text x="218.50" y="341.01" font-size="5.9" text-anchor="start" fill="#2b2b2b" stroke="#2b2b2b" stroke-width="0.16">At risk</text>
<line x1="249.50" y1="338.70" x2="249.50" y2="340.90" stroke="#363636" stroke-width="1.0"/>
<line x1="280.50" y1="338.70" x2="280.50" y2="340.90" stroke="#363636" stroke-width="1.0"/>
<line x1="310.50" y1="338.70" x2="310.50" y2="340.90" stroke="#363636" stroke-width="1.0"/>
<line x1="341.50" y1="338.70" x2="341.50" y2="340.90" stroke="#363636" stroke-width="1.0"/>
<line x1="372.50" y1="338.70" x2="372.50" y2="340.90" stroke="#363636" stroke-width="1.0"/>
<line x1="402.50" y1="338.70" x2="402.50" y2="340.90" stroke="#363636" stroke-width="1.0"/>
<line x1="433.50" y1="338.70" x2="433.50" y2="340.90" stroke="#363636" stroke-width="1.0"/>
<line x1="463.50" y1="338.70" x2="463.50" y2="340.90" stroke="#363636" stroke-width="1.0"/>
<text x="0" y="0" font-size="7.4" text-anchor="middle" fill="#2b2b2b" stroke="#2b2b2b" stroke-width="0.4" textLength="64" lengthAdjust="spacingAndGlyphs" transform="translate(227.80,262.40) rotate(-90)">Cumulative incidence (%)</text>
<line x1="257.50" y1="206.20" x2="257.50" y2="338.70" stroke="#222" stroke-width="1.2" stroke-dasharray="2,2"/>
<line x1="310.80" y1="258.00" x2="310.80" y2="338.70" stroke="#222" stroke-width="1.2" stroke-dasharray="2,2"/>
<text x="261.00" y="211.45" font-size="6.0" text-anchor="start" fill="#2a2a2a" stroke="#2a2a2a" stroke-width="0.1">3-month NRM:</text>
<text x="261.00" y="220.95" font-size="6.0" text-anchor="start" fill="#d04a6a" stroke="#d04a6a" stroke-width="0.12">1% (95% CI: 0.28%, 2.7%)</text>
<text x="261.00" y="230.05" font-size="6.0" text-anchor="start" fill="#78c878" stroke="#78c878" stroke-width="0.12">0.85% (95% CI: 0.07%, 4.3%)</text>
<text x="261.00" y="239.15" font-size="6.0" text-anchor="start" fill="#4d7db5" stroke="#4d7db5" stroke-width="0.12">0.75% (95% CI: 0.07%, 3.8%)</text>
<text x="314.30" y="263.65" font-size="6.0" text-anchor="start" fill="#2a2a2a" stroke="#2a2a2a" stroke-width="0.1">2-year NRM:</text>
<text x="314.30" y="272.35" font-size="6.0" text-anchor="start" fill="#4d7db5" stroke="#4d7db5" stroke-width="0.12">10% (95% CI: 4.8%, 19%)</text>
<text x="314.30" y="281.35" font-size="6.0" text-anchor="start" fill="#d04a6a" stroke="#d04a6a" stroke-width="0.12">7.8% (95% CI: 4.6%, 12%)</text>
<text x="314.30" y="290.45" font-size="6.0" text-anchor="start" fill="#78c878" stroke="#78c878" stroke-width="0.12">2.7% (95% CI: 0.71%, 7.1%)</text>
<line x1="464.10" y1="189.00" x2="479.00" y2="189.00" stroke="#d04a6a" stroke-width="1.1"/>
<text x="481.90" y="191.08" font-size="5.8" text-anchor="start" fill="#d04a6a" stroke="#d04a6a" stroke-width="0.1">Axi-cel</text>
<line x1="464.10" y1="198.90" x2="479.00" y2="198.90" stroke="#78c878" stroke-width="1.1"/>
<text x="481.90" y="200.98" font-size="5.8" text-anchor="start" fill="#78c878" stroke="#78c878" stroke-width="0.1">Tisa-cel</text>
<line x1="464.10" y1="208.40" x2="479.00" y2="208.40" stroke="#4d7db5" stroke-width="1.1"/>
<text x="481.90" y="210.48" font-size="5.8" text-anchor="start" fill="#4d7db5" stroke="#4d7db5" stroke-width="0.1">Liso-cel</text>
<text x="430.70" y="206.55" font-size="6.0" text-anchor="start" fill="#222" stroke="#222" stroke-width="0.3" font-weight="bold"><tspan font-style="italic">P</tspan> = .14</text>
<path d="M249.7,338.5 L255.0,338.5 L255.0,337.6 L260.0,337.6 L260.0,336.7 L266.0,336.7 L266.0,335.6 L271.0,335.6 L271.0,334.8 L276.6,334.8 L276.6,334.5 L322.1,334.5 L322.1,332.3 L393.8,332.3 L393.8,327.4 L440.8,327.4" fill="none" stroke="#78c878" stroke-width="1.0"/>
<path d="M249.7,338.5 L253.0,338.5 L253.0,337.6 L257.0,337.6 L257.0,336.6 L261.0,336.6 L261.0,335.4 L264.5,335.4 L264.5,334.5 L268.0,334.5 L268.0,333.8 L281.3,333.8 L281.3,332.2 L287.5,332.2 L287.5,330.7 L297.3,330.7 L297.3,328.8 L310.0,328.8 L310.0,327.1 L315.8,327.1 L315.8,325.8 L319.8,325.8 L319.8,324.4 L321.0,324.4 L321.0,323.6 L337.7,323.6 L337.7,322.0 L340.6,322.0 L340.6,320.0 L451.0,320.0" fill="none" stroke="#d04a6a" stroke-width="1.0"/>
<path d="M249.7,338.5 L253.0,338.5 L253.0,337.6 L257.0,337.6 L257.0,336.6 L261.0,336.6 L261.0,335.4 L264.5,335.4 L264.5,334.5 L268.0,334.5 L268.0,333.8 L281.3,333.8 L281.3,332.2 L287.5,332.2 L287.5,329.5 L292.8,329.5 L292.8,326.2 L303.7,326.2 L303.7,323.6 L398.3,323.6 L398.3,314.4 L473.0,314.4" fill="none" stroke="#4d7db5" stroke-width="1.0"/>
<text x="240.20" y="350.21" font-size="5.9" text-anchor="end" fill="#2b2b2b" stroke="#2b2b2b" stroke-width="0.16">Axi-cel:</text>
<text x="249.70" y="350.21" font-size="5.9" text-anchor="middle" fill="#2b2b2b" stroke="#2b2b2b" stroke-width="0.16">344</text>
<text x="280.30" y="350.21" font-size="5.9" text-anchor="middle" fill="#2b2b2b" stroke="#2b2b2b" stroke-width="0.16">132</text>
<text x="310.90" y="350.21" font-size="5.9" text-anchor="middle" fill="#2b2b2b" stroke="#2b2b2b" stroke-width="0.16">72</text>
<text x="341.50" y="350.21" font-size="5.9" text-anchor="middle" fill="#2b2b2b" stroke="#2b2b2b" stroke-width="0.16">47</text>
<text x="372.10" y="350.21" font-size="5.9" text-anchor="middle" fill="#2b2b2b" stroke="#2b2b2b" stroke-width="0.16">37</text>
<text x="402.70" y="350.21" font-size="5.9" text-anchor="middle" fill="#2b2b2b" stroke="#2b2b2b" stroke-width="0.16">34</text>
<text x="433.30" y="350.21" font-size="5.9" text-anchor="middle" fill="#2b2b2b" stroke="#2b2b2b" stroke-width="0.16">26</text>
<text x="463.90" y="350.21" font-size="5.9" text-anchor="middle" fill="#2b2b2b" stroke="#2b2b2b" stroke-width="0.16">23</text>
<text x="240.20" y="359.41" font-size="5.9" text-anchor="end" fill="#2b2b2b" stroke="#2b2b2b" stroke-width="0.16">Tisa-cel:</text>
<text x="249.70" y="359.41" font-size="5.9" text-anchor="middle" fill="#2b2b2b" stroke="#2b2b2b" stroke-width="0.16">142</text>
<text x="280.30" y="359.41" font-size="5.9" text-anchor="middle" fill="#2b2b2b" stroke="#2b2b2b" stroke-width="0.16">44</text>
<text x="310.90" y="359.41" font-size="5.9" text-anchor="middle" fill="#2b2b2b" stroke="#2b2b2b" stroke-width="0.16">33</text>
<text x="341.50" y="359.41" font-size="5.9" text-anchor="middle" fill="#2b2b2b" stroke="#2b2b2b" stroke-width="0.16">24</text>
<text x="372.10" y="359.41" font-size="5.9" text-anchor="middle" fill="#2b2b2b" stroke="#2b2b2b" stroke-width="0.16">18</text>
<text x="402.70" y="359.41" font-size="5.9" text-anchor="middle" fill="#2b2b2b" stroke="#2b2b2b" stroke-width="0.16">15</text>
<text x="433.30" y="359.41" font-size="5.9" text-anchor="middle" fill="#2b2b2b" stroke="#2b2b2b" stroke-width="0.16">13</text>
<text x="463.90" y="359.41" font-size="5.9" text-anchor="middle" fill="#2b2b2b" stroke="#2b2b2b" stroke-width="0.16">11</text>
<text x="240.20" y="369.11" font-size="5.9" text-anchor="end" fill="#2b2b2b" stroke="#2b2b2b" stroke-width="0.16">Liso-cel:</text>
<text x="249.70" y="369.11" font-size="5.9" text-anchor="middle" fill="#2b2b2b" stroke="#2b2b2b" stroke-width="0.16">138</text>
<text x="280.30" y="369.11" font-size="5.9" text-anchor="middle" fill="#2b2b2b" stroke="#2b2b2b" stroke-width="0.16">56</text>
<text x="310.90" y="369.11" font-size="5.9" text-anchor="middle" fill="#2b2b2b" stroke="#2b2b2b" stroke-width="0.16">21</text>
<text x="341.50" y="369.11" font-size="5.9" text-anchor="middle" fill="#2b2b2b" stroke="#2b2b2b" stroke-width="0.16">10</text>
<text x="372.10" y="369.11" font-size="5.9" text-anchor="middle" fill="#2b2b2b" stroke="#2b2b2b" stroke-width="0.16">9</text>
<text x="402.70" y="369.11" font-size="5.9" text-anchor="middle" fill="#2b2b2b" stroke="#2b2b2b" stroke-width="0.16">8</text>
<text x="433.30" y="369.11" font-size="5.9" text-anchor="middle" fill="#2b2b2b" stroke="#2b2b2b" stroke-width="0.16">5</text>
<text x="463.90" y="369.11" font-size="5.9" text-anchor="middle" fill="#2b2b2b" stroke="#2b2b2b" stroke-width="0.16">4</text>
<text x="240.20" y="388.81" font-size="5.9" text-anchor="end" fill="#2b2b2b" stroke="#2b2b2b" stroke-width="0.16">Axi-cel:</text>
<text x="249.70" y="388.81" font-size="5.9" text-anchor="middle" fill="#2b2b2b" stroke="#2b2b2b" stroke-width="0.16">0</text>
<text x="280.30" y="388.81" font-size="5.9" text-anchor="middle" fill="#2b2b2b" stroke="#2b2b2b" stroke-width="0.16">11</text>
<text x="310.90" y="388.81" font-size="5.9" text-anchor="middle" fill="#2b2b2b" stroke="#2b2b2b" stroke-width="0.16">17</text>
<text x="341.50" y="388.81" font-size="5.9" text-anchor="middle" fill="#2b2b2b" stroke="#2b2b2b" stroke-width="0.16">21</text>
<text x="372.10" y="388.81" font-size="5.9" text-anchor="middle" fill="#2b2b2b" stroke="#2b2b2b" stroke-width="0.16">21</text>
<text x="402.70" y="388.81" font-size="5.9" text-anchor="middle" fill="#2b2b2b" stroke="#2b2b2b" stroke-width="0.16">21</text>
<text x="433.30" y="388.81" font-size="5.9" text-anchor="middle" fill="#2b2b2b" stroke="#2b2b2b" stroke-width="0.16">21</text>
<text x="463.90" y="388.81" font-size="5.9" text-anchor="middle" fill="#2b2b2b" stroke="#2b2b2b" stroke-width="0.16">21</text>
<text x="240.20" y="398.41" font-size="5.9" text-anchor="end" fill="#2b2b2b" stroke="#2b2b2b" stroke-width="0.16">Tisa-cel:</text>
<text x="249.70" y="398.41" font-size="5.9" text-anchor="middle" fill="#2b2b2b" stroke="#2b2b2b" stroke-width="0.16">0</text>
<text x="280.30" y="398.41" font-size="5.9" text-anchor="middle" fill="#2b2b2b" stroke="#2b2b2b" stroke-width="0.16">3</text>
<text x="310.90" y="398.41" font-size="5.9" text-anchor="middle" fill="#2b2b2b" stroke="#2b2b2b" stroke-width="0.16">3</text>
<text x="341.50" y="398.41" font-size="5.9" text-anchor="middle" fill="#2b2b2b" stroke="#2b2b2b" stroke-width="0.16">4</text>
<text x="372.10" y="398.41" font-size="5.9" text-anchor="middle" fill="#2b2b2b" stroke="#2b2b2b" stroke-width="0.16">4</text>
<text x="402.70" y="398.41" font-size="5.9" text-anchor="middle" fill="#2b2b2b" stroke="#2b2b2b" stroke-width="0.16">5</text>
<text x="433.30" y="398.41" font-size="5.9" text-anchor="middle" fill="#2b2b2b" stroke="#2b2b2b" stroke-width="0.16">5</text>
<text x="463.90" y="398.41" font-size="5.9" text-anchor="middle" fill="#2b2b2b" stroke="#2b2b2b" stroke-width="0.16">5</text>
<text x="240.20" y="408.01" font-size="5.9" text-anchor="end" fill="#2b2b2b" stroke="#2b2b2b" stroke-width="0.16">Liso-cel:</text>
<text x="249.70" y="408.01" font-size="5.9" text-anchor="middle" fill="#2b2b2b" stroke="#2b2b2b" stroke-width="0.16">0</text>
<text x="280.30" y="408.01" font-size="5.9" text-anchor="middle" fill="#2b2b2b" stroke="#2b2b2b" stroke-width="0.16">5</text>
<text x="310.90" y="408.01" font-size="5.9" text-anchor="middle" fill="#2b2b2b" stroke="#2b2b2b" stroke-width="0.16">9</text>
<text x="341.50" y="408.01" font-size="5.9" text-anchor="middle" fill="#2b2b2b" stroke="#2b2b2b" stroke-width="0.16">9</text>
<text x="372.10" y="408.01" font-size="5.9" text-anchor="middle" fill="#2b2b2b" stroke="#2b2b2b" stroke-width="0.16">9</text>
<text x="402.70" y="408.01" font-size="5.9" text-anchor="middle" fill="#2b2b2b" stroke="#2b2b2b" stroke-width="0.16">10</text>
<text x="433.30" y="408.01" font-size="5.9" text-anchor="middle" fill="#2b2b2b" stroke="#2b2b2b" stroke-width="0.16">10</text>
<text x="463.90" y="408.01" font-size="5.9" text-anchor="middle" fill="#2b2b2b" stroke="#2b2b2b" stroke-width="0.16">10</text>
<text x="218.50" y="378.81" font-size="5.9" text-anchor="start" fill="#2b2b2b" stroke="#2b2b2b" stroke-width="0.16">Events</text>
<line x1="247.70" y1="413.80" x2="474.00" y2="413.80" stroke="#363636" stroke-width="1.45"/>
<line x1="249.50" y1="413.00" x2="249.50" y2="416.40" stroke="#363636" stroke-width="1.0"/>
<text x="249.70" y="424.41" font-size="5.9" text-anchor="middle" fill="#2b2b2b" stroke="#2b2b2b" stroke-width="0.16">0</text>
<line x1="280.50" y1="413.00" x2="280.50" y2="416.40" stroke="#363636" stroke-width="1.0"/>
<text x="280.30" y="424.41" font-size="5.9" text-anchor="middle" fill="#2b2b2b" stroke="#2b2b2b" stroke-width="0.16">12</text>
<line x1="310.50" y1="413.00" x2="310.50" y2="416.40" stroke="#363636" stroke-width="1.0"/>
<text x="310.90" y="424.41" font-size="5.9" text-anchor="middle" fill="#2b2b2b" stroke="#2b2b2b" stroke-width="0.16">24</text>
<line x1="341.50" y1="413.00" x2="341.50" y2="416.40" stroke="#363636" stroke-width="1.0"/>
<text x="341.50" y="424.41" font-size="5.9" text-anchor="middle" fill="#2b2b2b" stroke="#2b2b2b" stroke-width="0.16">36</text>
<line x1="372.50" y1="413.00" x2="372.50" y2="416.40" stroke="#363636" stroke-width="1.0"/>
<text x="372.10" y="424.41" font-size="5.9" text-anchor="middle" fill="#2b2b2b" stroke="#2b2b2b" stroke-width="0.16">48</text>
<line x1="402.50" y1="413.00" x2="402.50" y2="416.40" stroke="#363636" stroke-width="1.0"/>
<text x="402.70" y="424.41" font-size="5.9" text-anchor="middle" fill="#2b2b2b" stroke="#2b2b2b" stroke-width="0.16">60</text>
<line x1="433.50" y1="413.00" x2="433.50" y2="416.40" stroke="#363636" stroke-width="1.0"/>
<text x="433.30" y="424.41" font-size="5.9" text-anchor="middle" fill="#2b2b2b" stroke="#2b2b2b" stroke-width="0.16">72</text>
<line x1="463.50" y1="413.00" x2="463.50" y2="416.40" stroke="#363636" stroke-width="1.0"/>
<text x="463.90" y="424.41" font-size="5.9" text-anchor="middle" fill="#2b2b2b" stroke="#2b2b2b" stroke-width="0.16">84</text>
<text x="356.50" y="436.45" font-size="7.4" text-anchor="middle" fill="#222" stroke="#222" stroke-width="0.22" textLength="99.3" lengthAdjust="spacingAndGlyphs">Time after CAR T-cell infusion (months)</text>
<rect x="0.5" y="0.5" width="519" height="482" fill="none" stroke="#474747" stroke-width="1"/>
</svg></body></html>
